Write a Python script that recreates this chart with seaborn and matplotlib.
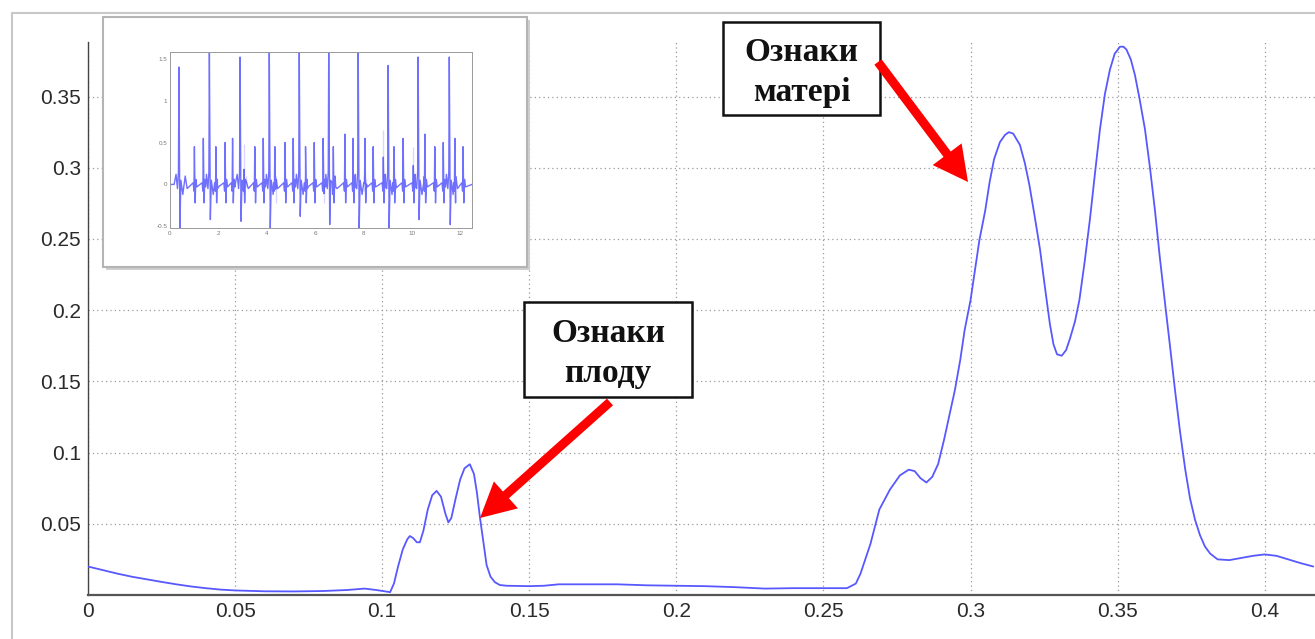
import numpy as np
import pandas as pd
import matplotlib
matplotlib.use("Agg")
import matplotlib.pyplot as plt
import matplotlib.patches as mpatches
from matplotlib.lines import Line2D
import seaborn as sns

# ---------------- data ----------------
freq = [0.000, 0.005, 0.010, 0.015, 0.020, 0.025, 0.030, 0.035, 0.040, 0.045,
        0.050, 0.060, 0.070, 0.080, 0.088, 0.094, 0.098, 0.101,
        0.1027, 0.1040, 0.1054, 0.1070, 0.1085, 0.1094, 0.1105, 0.1118, 0.1128,
        0.1140, 0.1155, 0.1170, 0.1185, 0.1200, 0.1215, 0.1225, 0.1235, 0.1250,
        0.1265, 0.1280, 0.1298, 0.1312, 0.1322, 0.1332, 0.1345, 0.1355, 0.1368,
        0.1383, 0.1400, 0.1423, 0.150, 0.155, 0.160, 0.170, 0.180, 0.190, 0.200,
        0.210, 0.220, 0.230, 0.240, 0.250, 0.258, 0.2610, 0.2626, 0.2660, 0.2690,
        0.2726, 0.2760, 0.2790, 0.2810, 0.2830, 0.2850, 0.2870, 0.2890, 0.2910,
        0.2930, 0.2947, 0.2965, 0.2980, 0.3000, 0.3015, 0.3030, 0.3050, 0.3065,
        0.3080, 0.3100, 0.3117, 0.3130, 0.3145, 0.3168, 0.3185, 0.3200, 0.3218,
        0.3236, 0.3253, 0.3270, 0.3282, 0.3294, 0.3310, 0.3325, 0.3338, 0.3355,
        0.3370, 0.3388, 0.3406, 0.3423, 0.3440, 0.3457, 0.3474, 0.3490, 0.3508,
        0.3520, 0.3530, 0.3545, 0.3559, 0.3575, 0.3593, 0.3610, 0.3627, 0.3643,
        0.3660, 0.3678, 0.3695, 0.3712, 0.3730, 0.3746, 0.3763, 0.3780, 0.3797,
        0.3815, 0.3840, 0.3880, 0.3920, 0.3960, 0.4000, 0.4040, 0.4080, 0.4120,
        0.4165]
power = [0.0200, 0.0175, 0.0150, 0.0128, 0.0110, 0.0092, 0.0075, 0.0060, 0.0048, 0.0038,
         0.0032, 0.0026, 0.0025, 0.0028, 0.0035, 0.0045, 0.0035, 0.0025,
         0.0020, 0.0080, 0.0200, 0.0320, 0.0390, 0.0414, 0.0400, 0.0370, 0.0370,
         0.0450, 0.0600, 0.0700, 0.0731, 0.0690, 0.0570, 0.0510, 0.0540, 0.0680,
         0.0810, 0.0890, 0.0918, 0.0850, 0.0720, 0.0550, 0.0360, 0.0210, 0.0130,
         0.0090, 0.0070, 0.0065, 0.0062, 0.0065, 0.0075, 0.0075, 0.0075, 0.0068, 0.0065,
         0.0062, 0.0055, 0.0045, 0.0048, 0.0048, 0.0048, 0.0080, 0.0150, 0.0360, 0.0600,
         0.0740, 0.0840, 0.0880, 0.0870, 0.0820, 0.0790, 0.0830, 0.0920, 0.1090,
         0.1280, 0.1440, 0.1650, 0.1860, 0.2070, 0.2280, 0.2490, 0.2700, 0.2900,
         0.3060, 0.3180, 0.3230, 0.3250, 0.3240, 0.3160, 0.3030, 0.2880, 0.2660,
         0.2430, 0.2160, 0.1900, 0.1760, 0.1690, 0.1680, 0.1720, 0.1800, 0.1920,
         0.2070, 0.2340, 0.2640, 0.2960, 0.3270, 0.3520, 0.3690, 0.3800, 0.3850,
         0.3850, 0.3830, 0.3760, 0.3650, 0.3480, 0.3270, 0.3000, 0.2700, 0.2380,
         0.2070, 0.1750, 0.1440, 0.1150, 0.0880, 0.0680, 0.0530, 0.0420, 0.0340,
         0.0290, 0.0250, 0.0245, 0.0260, 0.0275, 0.0285, 0.0275, 0.0250, 0.0225,
         0.0200]

x_ticks = [0, 0.05, 0.1, 0.15, 0.2, 0.25, 0.3, 0.35, 0.4]
x_tick_labels = ["0", "0.05", "0.1", "0.15", "0.2", "0.25", "0.3", "0.35", "0.4"]
y_ticks = [0.05, 0.1, 0.15, 0.2, 0.25, 0.3, 0.35]
y_tick_labels = ["0.05", "0.1", "0.15", "0.2", "0.25", "0.3", "0.35"]

# inset ECG: maternal and fetal R peaks (time, amplitude)
maternal_t = [0.37, 1.63, 2.90, 4.11, 5.35, 6.57, 7.79, 9.03, 10.27, 11.56]
maternal_h = [1.40, 1.58, 1.52, 1.58, 1.58, 1.58, 1.58, 1.42, 1.52, 1.52]
maternal_trough = [-0.52, -0.42, -0.44, -0.52, -0.38, -0.48, -0.52, -0.52, -0.42, -0.48]
fetal_t = [1.01, 1.38, 1.90, 2.28, 2.59, 3.06, 3.51, 3.86, 4.34, 4.76, 5.10, 5.61, 5.97,
           6.34, 6.76, 7.24, 7.58, 8.07, 8.41, 8.83, 9.27, 9.65, 10.07, 10.55, 10.96,
           11.31, 11.79, 12.13]
fetal_h = [0.45, 0.55, 0.45, 0.50, 0.55, 0.48, 0.45, 0.55, 0.45, 0.50, 0.55, 0.45, 0.50,
           0.55, 0.45, 0.60, 0.55, 0.55, 0.45, 0.65, 0.45, 0.55, 0.45, 0.60, 0.45,
           0.50, 0.55, 0.45]
inset_x_ticks = [0, 2, 4, 6, 8, 10, 12]
inset_x_labels = ["0", "2", "4", "6", "8", "10", "12"]
inset_y_ticks = [-0.5, 0, 0.5, 1, 1.5]
inset_y_labels = ["-0.5", "0", "0.5", "1", "1.5"]

label_mother = "Ознаки\nматері"
label_fetus = "Ознаки\nплоду"

# ---------------- figure ----------------
W, H = 1315, 639
sns.set_style("white")
plt.rcParams["font.family"] = ["Liberation Sans", "DejaVu Sans"]

fig = plt.figure(figsize=(W / 100, H / 100), dpi=100)

def fx(px):
    return px / W

def fy(py):
    return 1 - py / H

ax = fig.add_axes([fx(88), fy(595), fx(1315) - fx(88), fy(42) - fy(595)])
df = pd.DataFrame({"f": freq, "p": power})
sns.lineplot(data=df, x="f", y="p", ax=ax, color="#5858ff", linewidth=1.3,
             sort=False, zorder=3)
ax.set_xlim(0, 0.4171)
ax.set_ylim(0, 0.3883)
ax.set_xticks(x_ticks)
ax.set_xticklabels(x_tick_labels)
ax.set_yticks(y_ticks)
ax.set_yticklabels(y_tick_labels)
ax.set_xlabel("")
ax.set_ylabel("")
ax.grid(True, color="#9a9a9a", linestyle=(0, (1, 2.5)), linewidth=0.9)
ax.set_axisbelow(True)
for s in ["top", "right"]:
    ax.spines[s].set_visible(False)
ax.spines["left"].set_color("#444444")
ax.spines["left"].set_linewidth(1.0)
ax.spines["bottom"].set_color("#555555")
ax.spines["bottom"].set_linewidth(1.6)
ax.tick_params(axis="both", direction="in", length=9, width=1.0, color="#444444",
               labelsize=15, labelcolor="#2a2a2a", pad=5)

# outer frame lines of the screenshot
fig.add_artist(Line2D([fx(12), fx(12)], [fy(13), 0], transform=fig.transFigure,
                      color="#c8c8c8", linewidth=1.5))
fig.add_artist(Line2D([fx(12), 1], [fy(13), fy(13)], transform=fig.transFigure,
                      color="#c8c8c8", linewidth=1.5))

# inset frame with shadow
fig.add_artist(mpatches.Rectangle((fx(106), fy(270)), fx(424), fy(17) - fy(267),
                                  transform=fig.transFigure, facecolor="#cfcfcf",
                                  edgecolor="none", zorder=4))
fig.add_artist(mpatches.Rectangle((fx(103), fy(267)), fx(424), fy(17) - fy(267),
                                  transform=fig.transFigure, facecolor="white",
                                  edgecolor="#b4b4b4", linewidth=1.5, zorder=4.5))

# inset ECG signal built from the peak lists
pts = []
for t, h, tr in zip(maternal_t, maternal_h, maternal_trough):
    pts += [(t - 0.20, 0.0), (t - 0.12, 0.12), (t - 0.06, -0.05), (t - 0.02, 0.15),
            (t, h), (t + 0.04, tr), (t + 0.08, 0.05), (t + 0.16, -0.12),
            (t + 0.26, 0.10), (t + 0.34, -0.05)]
for t, h in zip(fetal_t, fetal_h):
    pts += [(t - 0.05, 0.02), (t - 0.02, -0.08), (t, h), (t + 0.03, -0.22),
            (t + 0.06, 0.06), (t + 0.10, -0.03)]
pts.sort()
ecg = pd.DataFrame(pts, columns=["t", "v"])
ecg = pd.concat([pd.DataFrame({"t": [0.0], "v": [0.0]}), ecg,
                 pd.DataFrame({"t": [12.5], "v": [0.0]})], ignore_index=True)

iax = fig.add_axes([fx(170), fy(228), fx(472) - fx(170), fy(52) - fy(228)], zorder=5)
sns.lineplot(data=ecg, x="t", y="v", ax=iax, color="#4040ff", linewidth=1.0,
             alpha=0.75, sort=False)
iax.set_xlim(0, 12.5)
iax.set_ylim(-0.52, 1.58)
iax.set_xticks(inset_x_ticks)
iax.set_xticklabels(inset_x_labels)
iax.set_yticks(inset_y_ticks)
iax.set_yticklabels(inset_y_labels)
iax.set_xlabel("")
iax.set_ylabel("")
for s in iax.spines.values():
    s.set_color("#9a9a9a")
    s.set_linewidth(0.7)
iax.tick_params(axis="both", direction="in", length=2, width=0.5, color="#9a9a9a",
                labelsize=4.5, labelcolor="#777777", pad=2)

# annotation boxes
def label_box(x0, y0, x1, y1, text):
    fig.add_artist(mpatches.Rectangle((fx(x0), fy(y1)), fx(x1 - x0), fy(y0) - fy(y1),
                                      transform=fig.transFigure, facecolor="white",
                                      edgecolor="#111111", linewidth=1.8, zorder=6))
    fig.text(fx((x0 + x1) / 2), fy((y0 + y1) / 2 + 4), text, ha="center", va="center",
             family=["Liberation Serif", "DejaVu Serif"], fontweight="bold",
             fontsize=24, linespacing=1.4, color="#111111", zorder=7)

label_box(723, 22, 880, 115, label_mother)
label_box(524, 302, 692, 397, label_fetus)

# red arrows
def red_arrow(p0, p1):
    arr = mpatches.FancyArrowPatch((fx(p0[0]), fy(p0[1])), (fx(p1[0]), fy(p1[1])),
                                   transform=fig.transFigure,
                                   arrowstyle="simple,head_length=25,head_width=26,tail_width=6.5",
                                   mutation_scale=1, color="#ff0000", linewidth=0,
                                   shrinkA=0, shrinkB=0, zorder=8)
    fig.add_artist(arr)

red_arrow((878, 62), (968, 182))
red_arrow((610, 402), (480, 518))

fig.savefig("out.png", dpi=100)
